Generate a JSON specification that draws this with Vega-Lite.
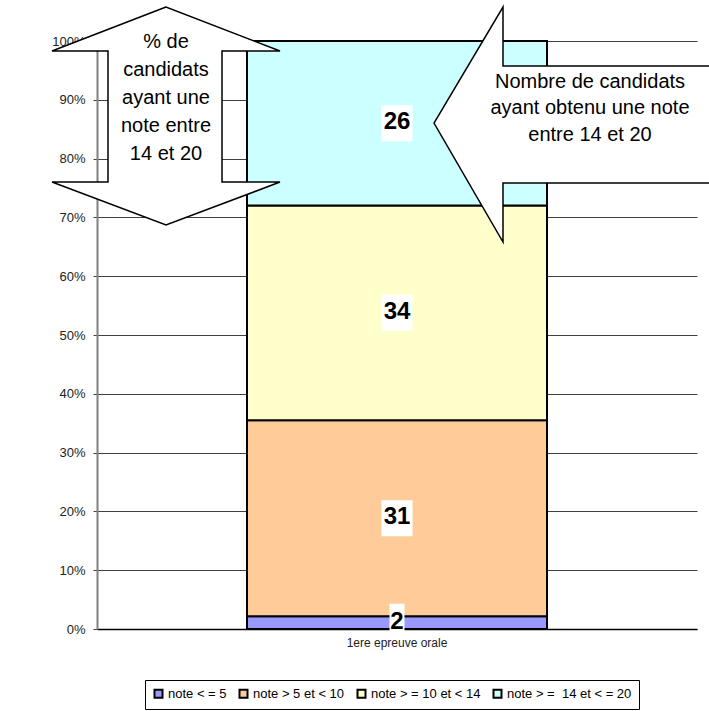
{
  "$schema": "https://vega.github.io/schema/vega-lite/v6.json",
  "width": 600,
  "height": 588,
  "autosize": {"type": "none"},
  "padding": {"left": 97, "top": 41, "right": 12, "bottom": 82},
  "background": "white",
  "config": {
    "view": {"stroke": null},
    "font": "Liberation Sans"
  },
  "layer": [
    {
      "data": {
        "values": [
          {"epreuve": "1ere epreuve orale", "note": "note < = 5", "n": 2, "ordre": 1},
          {"epreuve": "1ere epreuve orale", "note": "note > 5 et < 10", "n": 31, "ordre": 2},
          {"epreuve": "1ere epreuve orale", "note": "note > = 10 et < 14", "n": 34, "ordre": 3},
          {"epreuve": "1ere epreuve orale", "note": "note > =\u00a0 14 et < = 20", "n": 26, "ordre": 4}
        ]
      },
      "transform": [
        {"stack": "n", "groupby": ["epreuve"], "sort": [{"field": "ordre", "order": "ascending"}], "offset": "normalize", "as": ["y0", "y1"]},
        {"calculate": "(datum.y0 + datum.y1) / 2", "as": "ymid"}
      ],
      "layer": [
        {
          "mark": {"type": "bar", "stroke": "black", "strokeWidth": 2},
          "encoding": {
            "x": {
              "field": "epreuve", "type": "nominal",
              "scale": {"paddingInner": 0, "paddingOuter": 0.5},
              "axis": {"title": null, "labelAngle": 0, "ticks": false, "tickSize": 0, "labelPadding": 8, "labelFontSize": 12, "labelColor": "#222", "domainColor": "black", "domainWidth": 1.5, "grid": false}
            },
            "y": {
              "field": "y0", "type": "quantitative",
              "scale": {"domain": [0, 1]},
              "axis": {"title": null, "format": ".0%", "values": [0, 0.1, 0.2, 0.3, 0.4, 0.5, 0.6, 0.7, 0.8, 0.9, 1], "grid": true, "gridColor": "#404040", "gridWidth": 1, "domainColor": "#808080", "domainWidth": 2, "tickColor": "#404040", "tickSize": 4, "labelPadding": 8, "labelFontSize": 13, "labelColor": "#222"}
            },
            "y2": {"field": "y1"},
            "color": {
              "field": "note", "type": "nominal",
              "scale": {
                "domain": ["note < = 5", "note > 5 et < 10", "note > = 10 et < 14", "note > =\u00a0 14 et < = 20"],
                "range": ["#9999ff", "#ffcc99", "#ffffcc", "#ccffff"]
              },
              "legend": {
                "orient": "none", "legendX": 48, "legendY": 639, "direction": "horizontal",
                "title": null, "strokeColor": "black", "padding": 7,
                "symbolType": "square", "symbolSize": 64, "symbolStrokeColor": "black", "symbolStrokeWidth": 2,
                "labelFontSize": 13, "labelColor": "black", "columnPadding": 8, "labelOffset": 3,
                "encode": {"symbols": {"update": {"stroke": {"value": "black"}, "strokeWidth": {"value": 2}}}}
              }
            }
          }
        },
        {
          "mark": {"type": "point", "filled": true, "fill": "white", "opacity": 1, "strokeWidth": 0, "size": 4},
          "encoding": {
            "x": {"field": "epreuve", "type": "nominal"},
            "y": {"field": "ymid", "type": "quantitative"},
            "shape": {"condition": {"test": "datum.n < 10", "value": "M-7.5,-19H7.5V9H-7.5Z"}, "value": "M-15.5,-18H15.5V18H-15.5Z"}
          }
        },
        {
          "mark": {"type": "text", "fontSize": 24, "fontWeight": "bold", "color": "black", "baseline": "middle", "dy": -1},
          "encoding": {
            "x": {"field": "epreuve", "type": "nominal"},
            "y": {"field": "ymid", "type": "quantitative"},
            "text": {"field": "n", "type": "quantitative"}
          }
        }
      ]
    },
    {
      "data": {"values": [{"annotation": 1}]},
      "layer": [
        {
          "mark": {"type": "point", "filled": true, "fill": "white", "opacity": 1, "stroke": "black", "strokeWidth": 1.5, "size": 4,
            "shape": "M-231,-109L-345,-65L-289,-65L-289,66L-345,66L-231,109L-117,66L-175,66L-175,-65L-117,-65Z"},
          "encoding": {
            "x": {"datum": "1ere epreuve orale", "type": "nominal"},
            "y": {"datum": 0.8724, "type": "quantitative"}
          }
        },
        {
          "mark": {"type": "text", "fontSize": 20, "color": "black", "baseline": "middle", "align": "center", "lineHeight": 28, "dx": -231,
            "text": ["% de", "candidats", "ayant une", "note entre", "14 et 20"]},
          "encoding": {
            "x": {"datum": "1ere epreuve orale", "type": "nominal"},
            "y": {"datum": 0.9983, "type": "quantitative"}
          }
        },
        {
          "mark": {"type": "point", "filled": true, "fill": "white", "opacity": 1, "stroke": "black", "strokeWidth": 1.5, "size": 4,
            "shape": "M37,0L106,-116L106,-57L330,-57L330,60L106,60L106,119Z"},
          "encoding": {
            "x": {"datum": "1ere epreuve orale", "type": "nominal"},
            "y": {"datum": 0.8605, "type": "quantitative"}
          }
        },
        {
          "mark": {"type": "text", "fontSize": 20, "color": "black", "baseline": "middle", "align": "center", "lineHeight": 26.5, "dx": 193,
            "text": ["Nombre de candidats", "ayant obtenu une note", "entre 14 et 20"]},
          "encoding": {
            "x": {"datum": "1ere epreuve orale", "type": "nominal"},
            "y": {"datum": 0.9303, "type": "quantitative"}
          }
        }
      ]
    }
  ]
}
